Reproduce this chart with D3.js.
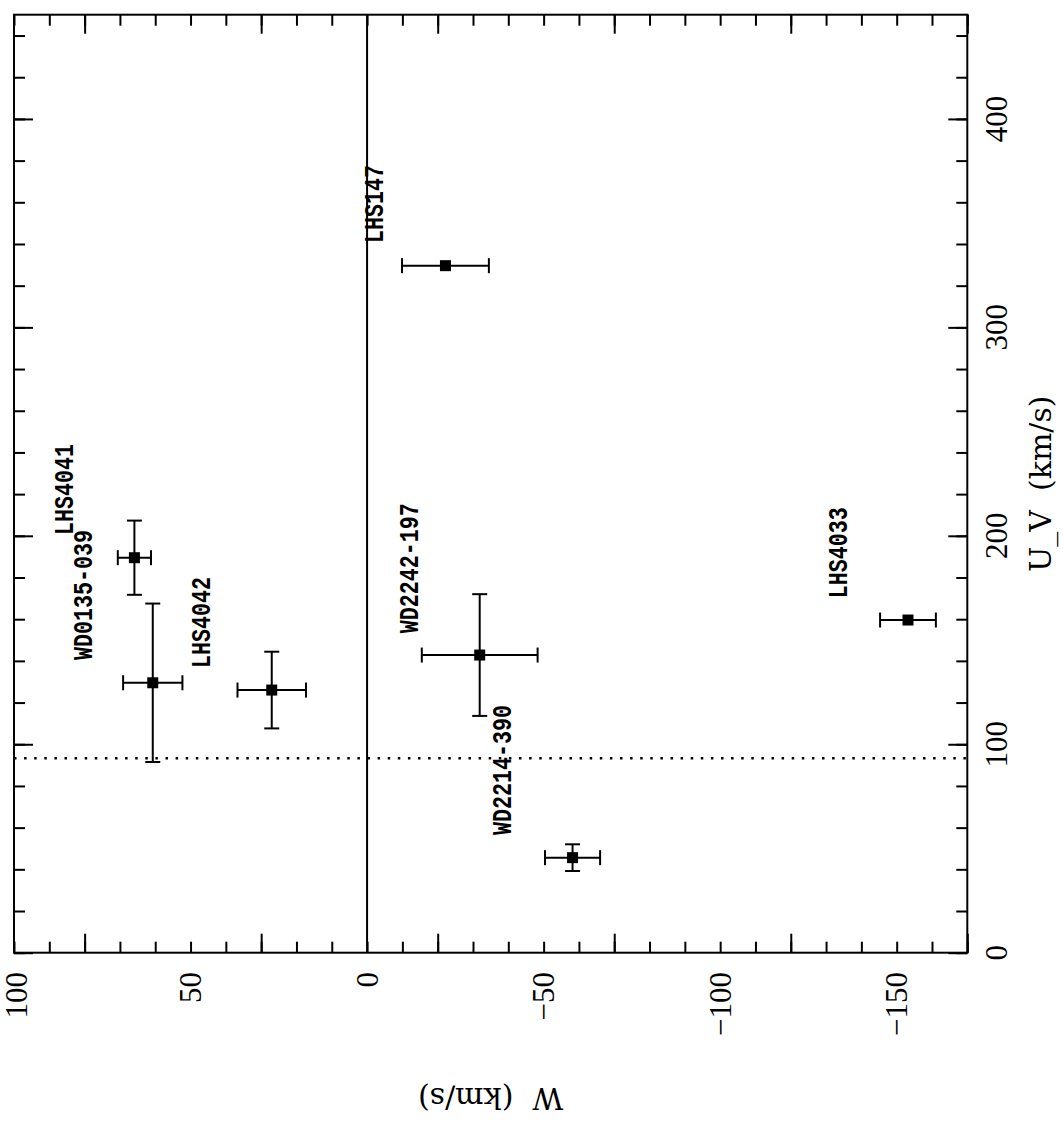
<!DOCTYPE html>
<html>
<head>
<meta charset="utf-8">
<script src="https://cdn.jsdelivr.net/npm/d3@7"></script>
<style>
  html, body { margin: 0; padding: 0; background: #fff; }
  svg { display: block; }
  .tick-label { font-family: "Liberation Serif", serif; font-size: 31px; fill: #000; }
  .axis-title { font-family: "DejaVu Serif", serif; font-size: 30px; fill: #000; white-space: pre; }
  .star-label { font-family: "Liberation Mono", monospace; font-weight: bold; font-size: 28px; fill: #000; }
</style>
</head>
<body>
<svg id="chart" width="1063" height="1130"></svg>
<script>
// values
const stars = ['LHS147', 'LHS4041', 'WD0135-039', 'LHS4042', 'WD2242-197', 'WD2214-390', 'LHS4033'];
const wVel = [-22.2, 65.9, 60.7, 27.0, -31.9, -58.2, -153.2];
const wErr = [12.3, 4.7, 8.4, 9.7, 16.4, 7.8, 7.9];
const uvVel = [329.6, 189.5, 129.5, 126.0, 142.8, 45.6, 159.6];
const uvErr = [0, 17.8, 38.0, 18.4, 29.2, 6.4, 0];
// where each name is written (data units: baseline W, start U_V)
const labelW = [-4.5, 83.2, 77.9, 44.5, -14.5, -40.9, -135.8];
const labelUV = [340.5, 200.4, 140.4, 136.6, 153.2, 56.5, 170.0];

const wTicks = [100, 50, 0, -50, -100, -150];
const uvTicks = [0, 100, 200, 300, 400];
const uvLimit = 93.3;

const svg = d3.select('#chart'),
    cs = {
        frame: { left: 14, right: 967.3, top: 14.7, bottom: 952.7 },
        tick: { minor: 11, major: 19 },
        cap: 7.5,
        marker: 11
    };

const x = d3.scaleLinear().domain([100, -170]).range([cs.frame.left, cs.frame.right]);
const y = d3.scaleLinear().domain([0, 450]).range([cs.frame.bottom, cs.frame.top]);

const fmt = v => (v < 0 ? '\u2212' + Math.abs(v) : String(v));

// inward ticks on all four sides, minor and major
const drawTicks = (axisFn, scale, step, size, transform) => {
    const [d0, d1] = scale.domain();
    const vals = d3.range(Math.min(d0, d1), Math.max(d0, d1) + 0.001, step);
    svg.append('g')
        .attr('transform', transform)
        .call(axisFn(scale).tickValues(vals).tickSize(-size).tickFormat(''))
        .call(g => g.select('.domain').remove())
        .call(g => g.selectAll('line').attr('stroke', '#000').attr('stroke-width', 2));
};
const bottomT = 'translate(0,' + cs.frame.bottom + ')',
    topT = 'translate(0,' + cs.frame.top + ')',
    leftT = 'translate(' + cs.frame.left + ',0)',
    rightT = 'translate(' + cs.frame.right + ',0)';

drawTicks(d3.axisBottom, x, 10, cs.tick.minor, bottomT);
drawTicks(d3.axisBottom, x, 50, cs.tick.major, bottomT);
drawTicks(d3.axisTop, x, 10, cs.tick.minor, topT);
drawTicks(d3.axisTop, x, 50, cs.tick.major, topT);
drawTicks(d3.axisLeft, y, 20, cs.tick.minor, leftT);
drawTicks(d3.axisLeft, y, 100, cs.tick.major, leftT);
drawTicks(d3.axisRight, y, 20, cs.tick.minor, rightT);
drawTicks(d3.axisRight, y, 100, cs.tick.major, rightT);

// frame
svg.append('rect')
    .attr('x', cs.frame.left).attr('y', cs.frame.top)
    .attr('width', cs.frame.right - cs.frame.left)
    .attr('height', cs.frame.bottom - cs.frame.top)
    .attr('fill', 'none').attr('stroke', '#000').attr('stroke-width', 2);

// tick labels (first one kept just inside the page edge)
svg.append('g').selectAll('text').data(wTicks).enter()
    .append('text')
    .attr('class', 'tick-label')
    .attr('text-anchor', 'end')
    .attr('dy', '0.34em')
    .attr('transform', d => 'translate(' + Math.max(x(d), 16) + ',972) rotate(-90)')
    .text(fmt);

svg.append('g').selectAll('text').data(uvTicks).enter()
    .append('text')
    .attr('class', 'tick-label')
    .attr('text-anchor', 'middle')
    .attr('transform', d => 'translate(1007,' + y(d) + ') rotate(-90)')
    .text(fmt);

// axis titles
svg.append('text')
    .attr('class', 'axis-title')
    .attr('xml:space', 'preserve')
    .attr('text-anchor', 'middle')
    .attr('transform', 'translate(' + (cs.frame.left + cs.frame.right) / 2 + ',1088) rotate(180)')
    .text('W  (km/s)');

svg.append('text')
    .attr('class', 'axis-title')
    .attr('xml:space', 'preserve')
    .attr('text-anchor', 'middle')
    .attr('transform', 'translate(1051,' + (cs.frame.top + cs.frame.bottom) / 2 + ') rotate(-90)')
    .text('U_V  (km/s)');

// reference lines
svg.append('line')
    .attr('x1', x(0)).attr('x2', x(0))
    .attr('y1', cs.frame.top).attr('y2', cs.frame.bottom)
    .attr('stroke', '#000').attr('stroke-width', 2);

svg.append('line')
    .attr('x1', cs.frame.left).attr('x2', cs.frame.right)
    .attr('y1', y(uvLimit)).attr('y2', y(uvLimit))
    .attr('stroke', '#000').attr('stroke-width', 2.5)
    .attr('stroke-dasharray', '2.5 7.6');

// data points with error bars
const ds = stars.map((name, i) => ({
    name: name, w: wVel[i], we: wErr[i], u: uvVel[i], ue: uvErr[i], lw: labelW[i], lu: labelUV[i]
}));

const pts = svg.append('g').selectAll('g').data(ds).enter().append('g')
    .attr('stroke', '#000').attr('stroke-width', 2);

pts.append('line')
    .attr('x1', d => x(d.w - d.we)).attr('x2', d => x(d.w + d.we))
    .attr('y1', d => y(d.u)).attr('y2', d => y(d.u));
pts.append('line')
    .attr('x1', d => x(d.w - d.we)).attr('x2', d => x(d.w - d.we))
    .attr('y1', d => y(d.u) - cs.cap).attr('y2', d => y(d.u) + cs.cap);
pts.append('line')
    .attr('x1', d => x(d.w + d.we)).attr('x2', d => x(d.w + d.we))
    .attr('y1', d => y(d.u) - cs.cap).attr('y2', d => y(d.u) + cs.cap);

const withUe = pts.filter(d => d.ue > 0);
withUe.append('line')
    .attr('x1', d => x(d.w)).attr('x2', d => x(d.w))
    .attr('y1', d => y(d.u - d.ue)).attr('y2', d => y(d.u + d.ue));
withUe.append('line')
    .attr('x1', d => x(d.w) - cs.cap).attr('x2', d => x(d.w) + cs.cap)
    .attr('y1', d => y(d.u - d.ue)).attr('y2', d => y(d.u - d.ue));
withUe.append('line')
    .attr('x1', d => x(d.w) - cs.cap).attr('x2', d => x(d.w) + cs.cap)
    .attr('y1', d => y(d.u + d.ue)).attr('y2', d => y(d.u + d.ue));

pts.append('rect')
    .attr('x', d => x(d.w) - cs.marker / 2).attr('y', d => y(d.u) - cs.marker / 2)
    .attr('width', cs.marker).attr('height', cs.marker)
    .attr('fill', '#000').attr('stroke', 'none');

// star names, written upward
svg.append('g').selectAll('text').data(ds).enter()
    .append('text')
    .attr('class', 'star-label')
    .attr('textLength', d => d.name.length * 13)
    .attr('lengthAdjust', 'spacingAndGlyphs')
    .attr('transform', d => 'translate(' + x(d.lw) + ',' + y(d.lu) + ') rotate(-90)')
    .text(d => d.name);
</script>
</body>
</html>
